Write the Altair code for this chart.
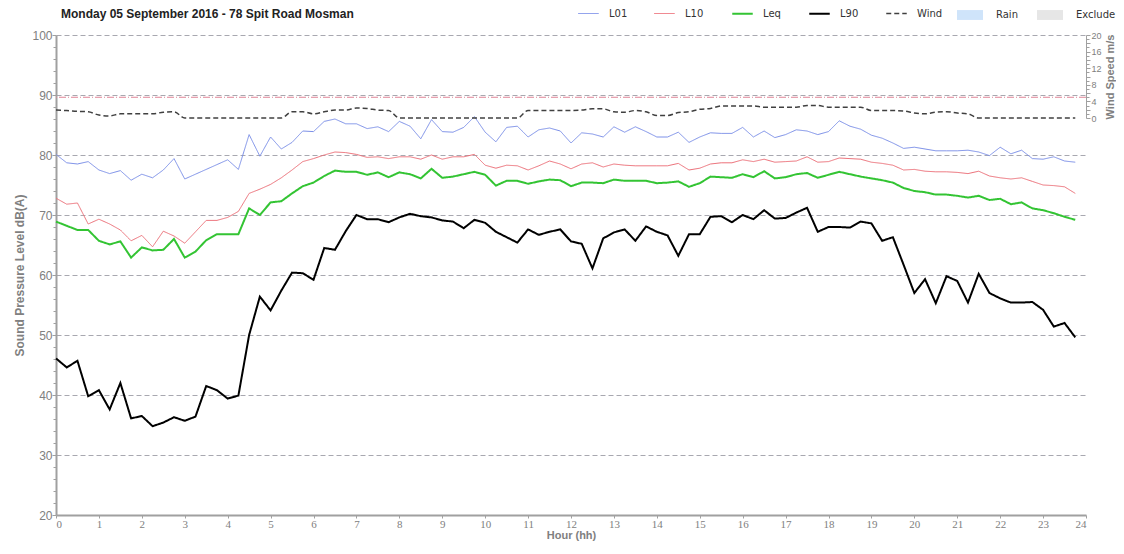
import altair as alt
import pandas as pd

TITLE = "Monday 05 September 2016 - 78 Spit Road Mosman"

HOURS = [0.0, 0.25, 0.5, 0.75, 1.0, 1.25, 1.5, 1.75, 2.0, 2.25, 2.5, 2.75,
         3.0, 3.25, 3.5, 3.75, 4.0, 4.25, 4.5, 4.75, 5.0, 5.25, 5.5, 5.75,
         6.0, 6.25, 6.5, 6.75, 7.0, 7.25, 7.5, 7.75, 8.0, 8.25, 8.5, 8.75,
         9.0, 9.25, 9.5, 9.75, 10.0, 10.25, 10.5, 10.75, 11.0, 11.25, 11.5, 11.75,
         12.0, 12.25, 12.5, 12.75, 13.0, 13.25, 13.5, 13.75, 14.0, 14.25, 14.5, 14.75,
         15.0, 15.25, 15.5, 15.75, 16.0, 16.25, 16.5, 16.75, 17.0, 17.25, 17.5, 17.75,
         18.0, 18.25, 18.5, 18.75, 19.0, 19.25, 19.5, 19.75, 20.0, 20.25, 20.5, 20.75,
         21.0, 21.25, 21.5, 21.75, 22.0, 22.25, 22.5, 22.75, 23.0, 23.25, 23.5, 23.75]

L01 = [80.1, 78.7, 78.5, 78.9, 77.5, 76.9, 77.4, 75.8, 76.8, 76.2, 77.5, 79.4,
       76.0, 76.8, 77.6, 78.4, 79.2, 77.6, 83.4, 79.8, 83.0, 81.0, 82.1, 84.0,
       83.9, 85.6, 86.0, 85.2, 85.2, 84.4, 84.7, 83.9, 85.6, 84.8, 82.7, 85.9,
       83.9, 83.8, 84.6, 86.4, 83.8, 82.2, 84.6, 84.8, 83.0, 84.2, 84.5, 84.0,
       82.0, 83.7, 83.5, 83.0, 84.7, 83.8, 84.7, 83.9, 83.0, 83.0, 83.8, 82.1,
       83.0, 83.7, 83.6, 83.6, 84.6, 83.0, 84.0, 82.9, 83.4, 84.2, 84.0, 83.4,
       83.9, 85.7, 84.8, 84.3, 83.3, 82.8, 82.0, 81.1, 81.3, 81.0, 80.7, 80.7,
       80.7, 80.8, 80.5, 79.9, 81.3, 80.2, 80.8, 79.4, 79.3, 79.7, 79.0, 78.8]

L10 = [72.8, 71.8, 72.0, 68.5, 69.3, 68.5, 67.5, 65.7, 66.6, 64.7, 67.3, 66.5,
       65.3, 67.2, 69.1, 69.1, 69.6, 70.6, 73.6, 74.3, 75.1, 76.2, 77.5, 78.9,
       79.4, 80.0, 80.5, 80.4, 80.1, 79.6, 79.7, 79.4, 79.7, 79.7, 79.3, 80.0,
       79.3, 79.7, 79.7, 80.1, 78.3, 77.8, 78.3, 78.2, 77.5, 78.2, 79.0, 78.5,
       77.7, 78.5, 78.7, 78.0, 78.5, 78.3, 78.2, 78.2, 78.2, 78.2, 78.6, 77.5,
       77.8, 78.5, 78.7, 78.7, 79.2, 78.9, 79.3, 78.8, 78.9, 79.0, 79.7, 78.8,
       78.9, 79.5, 79.4, 79.3, 78.8, 78.6, 78.3, 77.5, 77.6, 77.3, 77.2, 77.2,
       77.1, 76.9, 77.3, 76.5, 76.2, 76.0, 76.2, 75.6, 75.0, 74.9, 74.7, 73.6]

LEQ = [68.9, 68.2, 67.5, 67.5, 65.7, 65.1, 65.6, 62.9, 64.6, 64.1, 64.2, 66.0,
       62.9, 63.9, 65.8, 66.8, 66.8, 66.8, 71.1, 70.0, 72.1, 72.3, 73.6, 74.8,
       75.4, 76.5, 77.4, 77.2, 77.2, 76.7, 77.1, 76.3, 77.1, 76.8, 76.1, 77.7,
       76.2, 76.4, 76.8, 77.2, 76.7, 74.9, 75.7, 75.7, 75.2, 75.6, 75.9, 75.8,
       74.8, 75.4, 75.4, 75.3, 75.9, 75.7, 75.7, 75.7, 75.3, 75.4, 75.6, 74.7,
       75.3, 76.4, 76.3, 76.2, 76.8, 76.3, 77.3, 76.1, 76.3, 76.8, 77.0, 76.2,
       76.7, 77.2, 76.8, 76.4, 76.1, 75.8, 75.4, 74.5, 74.0, 73.8, 73.4, 73.4,
       73.2, 72.9, 73.2, 72.5, 72.7, 71.8, 72.1, 71.1, 70.8, 70.3, 69.7, 69.2]

L90 = [46.1, 44.6, 45.7, 39.8, 40.8, 37.6, 42.0, 36.1, 36.5, 34.8, 35.4, 36.3,
       35.7, 36.4, 41.5, 40.8, 39.4, 39.9, 50.0, 56.4, 54.1, 57.4, 60.4, 60.3,
       59.2, 64.5, 64.2, 67.3, 70.0, 69.3, 69.3, 68.8, 69.6, 70.2, 69.8, 69.6,
       69.1, 68.9, 67.8, 69.2, 68.7, 67.2, 66.3, 65.4, 67.6, 66.7, 67.2, 67.6,
       65.6, 65.2, 61.1, 66.1, 67.1, 67.6, 65.7, 68.1, 67.2, 66.6, 63.2, 66.8,
       66.8, 69.7, 69.8, 68.8, 70.0, 69.3, 70.8, 69.4, 69.5, 70.4, 71.2, 67.2,
       68.0, 68.0, 67.9, 68.9, 68.6, 65.7, 66.3, 61.7, 57.0, 59.3, 55.3, 59.8,
       59.0, 55.4, 60.2, 57.0, 56.1, 55.4, 55.4, 55.5, 54.2, 51.4, 52.0, 49.6]

WIND = [1.9, 1.8, 1.6, 1.5, 0.7, 0.5, 1.0, 1.0, 1.0, 1.0, 1.4, 1.5,
        0.0, 0.0, 0.0, 0.0, 0.0, 0.0, 0.0, 0.0, 0.0, 0.0, 1.5, 1.5,
        1.0, 1.5, 1.9, 1.9, 2.4, 2.3, 1.9, 1.8, 0.0, 0.0, 0.0, 0.0,
        0.0, 0.0, 0.0, 0.0, 0.0, 0.0, 0.0, 0.0, 1.8, 1.8, 1.8, 1.8,
        1.8, 1.9, 2.2, 2.2, 1.5, 1.4, 1.8, 1.5, 0.6, 0.6, 1.3, 1.5,
        2.1, 2.3, 2.9, 2.9, 2.9, 2.9, 2.6, 2.6, 2.6, 2.6, 3.0, 3.0,
        2.6, 2.6, 2.6, 2.6, 1.8, 1.8, 1.8, 1.7, 1.2, 1.0, 1.4, 1.5,
        1.2, 1.0, 0.0, 0.0, 0.0, 0.0, 0.0, 0.0, 0.0, 0.0, 0.0, 0.0]

WIND_LIMIT = [5]
RAIN_PERIODS = []

LINE_NAMES = ["L01", "L10", "Leq", "L90", "Wind"]
LINE_COLORS = ["#7b8fe8", "#ec6f78", "#33c433", "#000000", "#404040"]
LINE_WIDTHS = [1, 1, 2, 2, 1.5]
LINE_DASHES = [[1, 0], [1, 0], [1, 0], [1, 0], [5, 3]]
AREA_NAMES = ["Rain", "Exclude"]
AREA_COLORS = ["#cfe4fa", "#e6e6e6"]

rows = []
for name, vals in zip(LINE_NAMES[:4], [L01, L10, LEQ, L90]):
    for h, v in zip(HOURS, vals):
        rows.append({"hour": h, "level": v, "series": name})
levels = pd.DataFrame(rows)
wind = pd.DataFrame({"hour": HOURS, "speed": WIND, "series": ["Wind"] * len(HOURS)})

FONT = "Liberation Sans"
AXIS_GREY = "#a0a0a0"
LABEL_GREY = "#808080"

line_legend = alt.Legend(
    orient="none", legendX=521, legendY=-33, direction="horizontal", columns=5,
    gridAlign="each", title=None, symbolType="stroke", symbolSize=420,
    labelFont="DejaVu Sans", labelFontSize=10, labelColor="#333333",
    columnPadding=24, labelOffset=9,
)
stroke_enc = alt.Stroke("series:N", scale=alt.Scale(domain=LINE_NAMES, range=LINE_COLORS), legend=line_legend)
width_enc = alt.StrokeWidth("series:N", scale=alt.Scale(type="ordinal", domain=LINE_NAMES, range=LINE_WIDTHS), legend=line_legend)
dash_enc = alt.StrokeDash("series:N", scale=alt.Scale(domain=LINE_NAMES, range=LINE_DASHES), legend=line_legend)

x_enc = alt.X(
    "hour:Q",
    scale=alt.Scale(domain=[0, 24], nice=False, zero=False),
    axis=alt.Axis(
        values=list(range(0, 25)), title="Hour (hh)", grid=False,
        domainColor=AXIS_GREY, domainWidth=2, tickColor=AXIS_GREY, tickSize=3,
        labelFont="Liberation Sans Narrow", labelFontSize=11, labelColor=LABEL_GREY,
        labelPadding=0, titleFont=FONT, titleFontSize=11, titleFontWeight="bold",
        titleColor=LABEL_GREY, titlePadding=0,
    ),
)

levels_chart = alt.Chart(levels).mark_line(interpolate="linear").encode(
    x=x_enc,
    y=alt.Y(
        "level:Q",
        scale=alt.Scale(domain=[20, 100], nice=False, zero=False),
        axis=alt.Axis(
            orient="left", values=list(range(20, 101, 2)),
            labelExpr="datum.value % 10 == 0 ? datum.label : ''",
            title="Sound Pressure Level dB(A)",
            grid=True, gridColor="#a8a8b0", gridDash=[5, 3], gridWidth=1,
            gridOpacity={"condition": {"test": "datum.value % 10 == 0 && datum.value > 20", "value": 1}, "value": 0},
            tickSize={"condition": {"test": "datum.value % 10 == 0", "value": 4}, "value": 3},
            domainColor=AXIS_GREY, domainWidth=2, tickColor=AXIS_GREY,
            labelFont=FONT, labelFontSize=12, labelColor=LABEL_GREY, labelPadding=0,
            titleFont=FONT, titleFontSize=12, titleFontWeight="bold", titleColor=LABEL_GREY,
            titlePadding=5,
        ),
    ),
    stroke=stroke_enc, strokeWidth=width_enc, strokeDash=dash_enc,
)

wind_y_scale = alt.Scale(domain=[0, 20], range=[83, 0], nice=False, zero=False)
wind_axis = alt.Axis(
    orient="right", values=list(range(0, 21)),
    labelExpr="datum.value % 2 == 0 ? datum.label : ''",
    title="Wind Speed  m/s", titleAngle=270, titleBaseline="top", grid=False,
    tickSize={"condition": {"test": "datum.value % 2 == 0", "value": 4}, "value": 3},
    domainColor=AXIS_GREY, domainWidth=1, tickColor=AXIS_GREY,
    labelFont=FONT, labelFontSize=9, labelColor=LABEL_GREY, labelPadding=1,
    labelBaseline="middle",
    titleFont=FONT, titleFontSize=11, titleFontWeight="bold", titleColor=LABEL_GREY,
    titlePadding=3,
)

wind_line = alt.Chart(wind).mark_line(interpolate="monotone").encode(
    x=x_enc,
    y=alt.Y("speed:Q", scale=wind_y_scale, axis=wind_axis),
    stroke=stroke_enc, strokeWidth=width_enc, strokeDash=dash_enc,
)
wind_limit = alt.Chart(pd.DataFrame({"speed": WIND_LIMIT})).mark_rule(
    color="#e08496", strokeWidth=1, strokeDash=[7, 2, 1, 2]
).encode(y=alt.Y("speed:Q", scale=wind_y_scale, axis=wind_axis))
wind_chart = alt.layer(wind_limit, wind_line)

area_chart = alt.Chart(alt.Data(values=RAIN_PERIODS)).mark_rect().encode(
    x=alt.X("start:Q", scale=alt.Scale(domain=[0, 24], nice=False, zero=False)),
    x2="end:Q",
    fill=alt.Fill(
        "kind:N",
        scale=alt.Scale(domain=AREA_NAMES, range=AREA_COLORS),
        legend=alt.Legend(
            orient="none", legendX=901, legendY=-33, direction="horizontal", columns=2,
            gridAlign="each", title=None, symbolType="M-1,-0.38H1V0.38H-1Z", symbolSize=676,
            symbolStrokeWidth=0, labelFont="DejaVu Sans", labelFontSize=10,
            labelColor="#333333", columnPadding=19, labelOffset=13,
        ),
    ),
)

chart = alt.layer(levels_chart, wind_chart, area_chart).resolve_scale(
    y="independent"
).properties(
    width=1030, height=480,
    title=alt.TitleParams(TITLE, anchor="start", frame="group", font=FONT, fontSize=12,
                          fontWeight="bold", color="#222222", dx=5, dy=25, offset=6),
    autosize=alt.AutoSizeParams(type="none"),
    padding={"left": 48, "top": 27, "right": 30, "bottom": 26},
).configure_view(stroke=None)

chart.save("out.html", embed_options={"renderer": "svg", "actions": False})
